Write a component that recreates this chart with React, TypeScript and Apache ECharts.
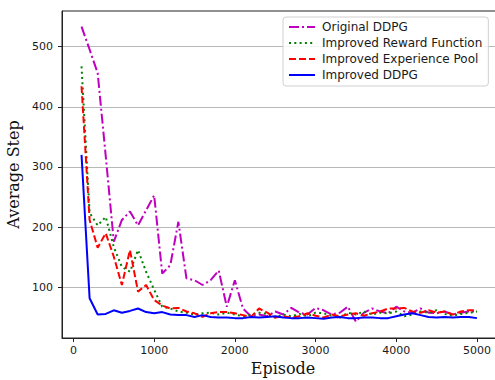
import React, { useEffect, useRef } from "react";
import * as echarts from "echarts";

const episodes = [
  100, 200, 300, 400, 500, 600, 700, 800, 900, 1000,
  1100, 1200, 1300, 1400, 1500, 1600, 1700, 1800, 1900, 2000,
  2100, 2200, 2300, 2400, 2500, 2600, 2700, 2800, 2900, 3000,
  3100, 3200, 3300, 3400, 3500, 3600, 3700, 3800, 3900, 4000,
  4100, 4200, 4300, 4400, 4500, 4600, 4700, 4800, 4900, 5000,
];

const originalDDPG = [
  533, 495, 456, 318, 176, 212, 226, 203, 228, 253,
  123, 137, 209, 115, 112, 104, 112, 128, 68, 112,
  65, 52, 55, 52, 60, 55, 66, 58, 55, 66,
  62, 55, 58, 68, 43, 58, 65, 60, 57, 68,
  60, 58, 65, 58, 57, 60, 55, 58, 60, 60,
];

const improvedReward = [
  467, 224, 203, 217, 167, 134, 126, 162, 126, 96,
  68, 65, 60, 58, 55, 57, 58, 55, 58, 55,
  52, 55, 58, 56, 50, 55, 52, 56, 52, 58,
  57, 53, 50, 58, 55, 60, 55, 58, 57, 60,
  52, 55, 60, 58, 62, 56, 53, 56, 58, 60,
];

const improvedPool = [
  434, 212, 166, 190, 151, 104, 162, 93, 104, 79,
  70, 65, 66, 60, 57, 51, 57, 59, 59, 57,
  54, 51, 65, 58, 50, 52, 50, 52, 57, 53,
  50, 55, 52, 55, 57, 53, 57, 60, 65, 65,
  66, 60, 58, 62, 58, 60, 55, 60, 62, 62,
];

const improvedDDPG = [
  320, 82, 55, 56, 62, 58, 61, 65, 59, 57,
  59, 55, 54, 54, 51, 54, 51, 50, 50, 49,
  49, 51, 50, 51, 52, 50, 49, 49, 50, 49,
  48, 50, 51, 49, 49, 50, 50, 49, 49, 52,
  55, 57, 54, 51, 50, 51, 50, 51, 51, 49,
];

const seriesNames = [
  "Original DDPG",
  "Improved Reward Function",
  "Improved Experience Pool",
  "Improved DDPG",
];

const xTicks = [0, 1000, 2000, 3000, 4000, 5000];
const yTicks = [100, 200, 300, 400, 500];

const pairs = (ys: number[]) => episodes.map((x, i) => [x, ys[i]]);

export default function App() {
  const ref = useRef<HTMLDivElement>(null);
  useEffect(() => {
    if (!ref.current) return;
    const chart = echarts.init(ref.current, undefined, { renderer: "svg" });
    const tickFont = {
      fontFamily: "DejaVu Sans",
      fontSize: 11,
      color: "#1a1a1a",
      formatter: (v: number) => String(v),
    };
    chart.setOption({
      animation: false,
      grid: {
        left: 62,
        top: 11,
        width: 442,
        height: 327,
        outerBoundsMode: "none",
        containLabel: false,
        show: true,
        borderColor: "#222",
        borderWidth: 1,
        backgroundColor: "#fff",
      },
      legend: {
        orient: "vertical",
        left: 283,
        top: 17,
        padding: [4, 6, 5, 5],
        itemWidth: 26,
        itemHeight: 14,
        itemGap: 4,
        backgroundColor: "rgba(255,255,255,0.85)",
        borderColor: "#d0d0d0",
        borderWidth: 1,
        borderRadius: 3,
        itemStyle: { opacity: 0 },
        textStyle: {
          fontFamily: "DejaVu Sans",
          fontSize: 12,
          color: "#1a1a1a",
          padding: [0, 0, 0, 2],
        },
        data: seriesNames,
      },
      xAxis: {
        type: "value",
        min: -142,
        max: 5335,
        name: "Episode",
        nameLocation: "middle",
        nameGap: 15,
        nameTextStyle: {
          fontFamily: "DejaVu Serif",
          fontSize: 16,
          color: "#111",
        },
        axisLine: { show: true, onZero: false, lineStyle: { color: "#222", width: 1 } },
        axisTick: {
          show: true,
          length: 4,
          customValues: xTicks,
          lineStyle: { color: "#222" },
        },
        axisLabel: { ...tickFont, margin: 7, customValues: xTicks },
        splitLine: { show: false },
      },
      yAxis: {
        type: "value",
        min: 16,
        max: 559,
        name: "Average Step",
        nameLocation: "middle",
        nameGap: 33,
        nameTextStyle: {
          fontFamily: "DejaVu Serif",
          fontSize: 16,
          color: "#111",
        },
        axisLine: { show: true, onZero: false, lineStyle: { color: "#222", width: 1 } },
        axisTick: {
          show: true,
          length: 4,
          customValues: yTicks,
          lineStyle: { color: "#222" },
        },
        axisLabel: { ...tickFont, margin: 9, customValues: yTicks },
        splitLine: {
          show: true,
          lineStyle: { color: "#b8b8b8", width: 1.2 },
        },
      },
      series: [
        {
          name: seriesNames[0],
          type: "line",
          symbol: "none",
          data: pairs(originalDDPG),
          lineStyle: { color: "#bf00bf", width: 2, type: [10, 3, 2, 3] },
          itemStyle: { color: "#bf00bf" },
        },
        {
          name: seriesNames[1],
          type: "line",
          symbol: "none",
          data: pairs(improvedReward),
          lineStyle: { color: "#008000", width: 2, type: [2, 3.3] },
          itemStyle: { color: "#008000" },
        },
        {
          name: seriesNames[2],
          type: "line",
          symbol: "none",
          data: pairs(improvedPool),
          lineStyle: { color: "#ff0000", width: 2, type: [7, 3] },
          itemStyle: { color: "#ff0000" },
        },
        {
          name: seriesNames[3],
          type: "line",
          symbol: "none",
          data: pairs(improvedDDPG),
          lineStyle: { color: "#0000ff", width: 2, type: "solid" },
          itemStyle: { color: "#0000ff" },
        },
      ],
    });
    return () => chart.dispose();
  }, []);
  return (
    <div
      ref={ref}
      style={{ position: "absolute", left: 0, top: 0, width: 495, height: 380, background: "#fff" }}
    />
  );
}
